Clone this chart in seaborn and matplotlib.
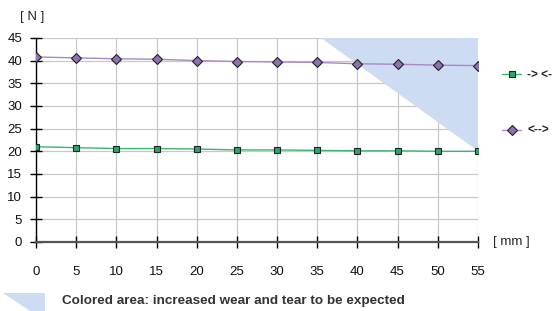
import matplotlib
import matplotlib.pyplot as plt
import pandas as pd
import seaborn as sns
from matplotlib.patches import Polygon

matplotlib.use("Agg")

stroke_mm = [0, 5, 10, 15, 20, 25, 30, 35, 40, 45, 50, 55]
force_push = [21.0, 20.8, 20.6, 20.6, 20.5, 20.3, 20.3, 20.2, 20.1, 20.1, 20.0, 20.0]
force_pull = [40.8, 40.6, 40.4, 40.3, 40.0, 39.8, 39.7, 39.6, 39.3, 39.2, 39.0, 38.9]
series_labels = ["-> <-", "<-->"]
wear_area_x = [35.5, 55, 55]
wear_area_y = [45, 45, 20]

df = pd.DataFrame({
    "mm": stroke_mm * 2,
    "N": force_push + force_pull,
    "series": [series_labels[0]] * len(stroke_mm) + [series_labels[1]] * len(stroke_mm),
})

sns.set_theme(style="white")
plt.rcParams["font.family"] = ["Liberation Sans", "DejaVu Sans"]

fig = plt.figure(figsize=(5.55, 3.11), dpi=100)
ax = fig.add_axes([0.065, 0.222, 0.796, 0.656])

ax.add_patch(Polygon(list(zip(wear_area_x, wear_area_y)), closed=True,
                     facecolor="#cddcf2", edgecolor="none", zorder=1))

palette = {series_labels[0]: "#3cb371", series_labels[1]: "#a58ac7"}
face = {series_labels[0]: "#2aa56e", series_labels[1]: "#9070b2"}
markers = {series_labels[0]: "s", series_labels[1]: "D"}
for name, sub in df.groupby("series", sort=False):
    sns.lineplot(data=sub, x="mm", y="N", ax=ax, color=palette[name], lw=1.0,
                 marker=markers[name], markersize=5, markerfacecolor=face[name],
                 markeredgecolor="#222222", markeredgewidth=0.8, zorder=3, label=name)

ax.set_xlim(0, 55)
ax.set_ylim(0, 45)
ax.set_xticks(stroke_mm)
ax.set_yticks(range(0, 50, 5))
ax.grid(True, color="#c8c8c8", lw=0.9, zorder=0)
ax.set_axisbelow(True)
for s in ["top", "right"]:
    ax.spines[s].set_visible(False)
ax.spines["left"].set_color("black")
ax.spines["left"].set_linewidth(1.0)
ax.spines["bottom"].set_color("#555555")
ax.spines["bottom"].set_linewidth(1.6)
ax.tick_params(axis="both", direction="inout", length=8, width=1.0, color="black",
               labelsize=9.5, labelcolor="#111111", left=True, bottom=True)
ax.tick_params(axis="x", pad=13)
ax.tick_params(axis="y", pad=6)
ax.set_xlabel("")
ax.set_ylabel("")

ax.text(-0.036, 1.103, "[ N ]", transform=ax.transAxes, fontsize=9.5, ha="left", va="center")
ax.text(1.035, 0.0, "[ mm ]", transform=ax.transAxes, fontsize=9.5, ha="left", va="center")

handles, labels = ax.get_legend_handles_labels()
ax.get_legend().remove()
legend_kw = dict(loc="center left", frameon=False, handlelength=1.6, handletextpad=0.5,
                 borderaxespad=0, borderpad=0, prop={"weight": "bold", "size": 8.5})
fig.legend([handles[0]], [labels[0]], bbox_to_anchor=(0.905, 0.759), **legend_kw)
fig.legend([handles[1]], [labels[1]], bbox_to_anchor=(0.905, 0.579), **legend_kw)

fig.patches.append(Polygon([(3 / 555, 1 - 293 / 311), (45 / 555, 1 - 293 / 311),
                            (45 / 555, 0.0), (30 / 555, 0.0)],
                           closed=True, transform=fig.transFigure,
                           facecolor="#cddcf2", edgecolor="none"))
fig.text(62 / 555, 1 - 301 / 311, "Colored area: increased wear and tear to be expected",
         fontsize=9.7, weight="bold", color="#333333", ha="left", va="center")

fig.savefig("out.png", dpi=100)
